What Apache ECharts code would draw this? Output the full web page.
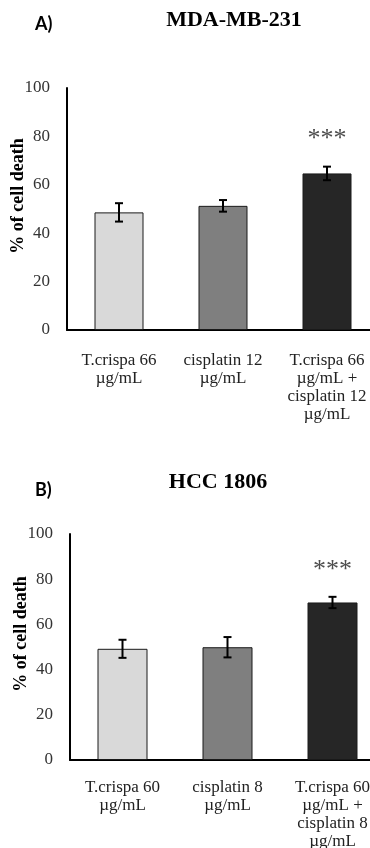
<!DOCTYPE html>
<html>
<head>
<meta charset="utf-8">
<script src="https://cdn.jsdelivr.net/npm/echarts@6/dist/echarts.min.js"></script>
<style>
  html, body { margin: 0; padding: 0; background: #fff; }
  #chart { width: 370px; height: 848px; }
</style>
</head>
<body>
<div id="chart"></div>
<script>
// data
var catsA = ['T.crispa 66\nµg/mL', 'cisplatin 12\nµg/mL', 'T.crispa 66\nµg/mL +\ncisplatin 12\nµg/mL'];
var valsA = [48.6, 51.3, 64.7];
var errA = [3.8, 2.4, 2.8];
var sigA = ['', '', '***'];

var catsB = ['T.crispa 60\nµg/mL', 'cisplatin 8\nµg/mL', 'T.crispa 60\nµg/mL +\ncisplatin 8\nµg/mL'];
var valsB = [49.2, 49.9, 69.7];
var errB = [4.0, 4.5, 2.5];
var sigB = ['', '', '***'];

var yTicks = [0, 20, 40, 60, 80, 100];
var barColors = ['#d9d9d9', '#7f7f7f', '#262626'];

const serif = 'Liberation Serif';

var chart = echarts.init(document.getElementById('chart'));

function barData(vals){
  return vals.map(function(v, i){
    return { value: v, itemStyle: { color: barColors[i] } };
  });
}

function errData(vals, errs){
  return vals.map(function(v, i){ return [i, v, errs[i]]; });
}

// error bars + stars
function errRender(sig){
  return function(params, api){
    var i = api.value(0), v = api.value(1), e = api.value(2);
    var top = api.coord([i, v + e]);
    var bot = api.coord([i, v - e]);
    var cap = 4;
    var st = { stroke: '#000', lineWidth: 2 };
    var kids = [
      { type: 'line', shape: { x1: top[0], y1: top[1], x2: bot[0], y2: bot[1] }, style: st },
      { type: 'line', shape: { x1: top[0] - cap, y1: top[1], x2: top[0] + cap, y2: top[1] }, style: st },
      { type: 'line', shape: { x1: bot[0] - cap, y1: bot[1], x2: bot[0] + cap, y2: bot[1] }, style: st }
    ];
    if (sig[params.dataIndex]) {
      kids.push({
        type: 'text', x: top[0], y: top[1] - 27,
        style: { text: sig[params.dataIndex], fill: '#4d4d4d', font: '26px "Liberation Serif"', align: 'center', verticalAlign: 'middle' }
      });
    }
    return { type: 'group', children: kids };
  };
}

function xAx(cats, idx, gap){
  return {
    type: 'category', gridIndex: idx, data: cats,
    axisLine: { lineStyle: { color: '#000', width: 2 } },
    axisTick: { show: false },
    axisLabel: { interval: 0, color: '#222', fontFamily: serif, fontSize: 17, lineHeight: 18, margin: gap }
  };
}

function yAx(idx){
  return {
    type: 'value', gridIndex: idx, min: yTicks[0], max: yTicks[yTicks.length - 1], interval: 20,
    name: '% of cell death', nameLocation: 'middle', nameGap: 40, nameMoveOverlap: false,
    nameTextStyle: { fontFamily: serif, fontWeight: 'bold', fontSize: 18, color: '#000', padding: [0, 0, 0, 26] },
    axisLine: { show: true, lineStyle: { color: '#000', width: 2 } },
    axisTick: { show: false },
    splitLine: { show: false },
    axisLabel: { color: '#333', fontFamily: serif, fontSize: 17, margin: 17 }
  };
}

var option = {
  animation: false,
  grid: [
    { left: 67, top: 88, width: 312, height: 242, outerBoundsMode: 'none' },
    { left: 70, top: 534, width: 315, height: 226, outerBoundsMode: 'none' }
  ],
  xAxis: [xAx(catsA, 0, 22), xAx(catsB, 1, 19)],
  yAxis: [yAx(0), yAx(1)],
  graphic: [
    { type: 'text', x: 35, y: 24, style: { text: 'A)', font: 'bold 18px Lato', fill: '#000', verticalAlign: 'middle' } },
    { type: 'text', x: 234, y: 20, style: { text: 'MDA-MB-231', font: 'bold 22px "Liberation Serif"', fill: '#000', align: 'center', verticalAlign: 'middle' } },
    { type: 'text', x: 35, y: 490, style: { text: 'B)', font: 'bold 18px Lato', fill: '#000', verticalAlign: 'middle' } },
    { type: 'text', x: 218, y: 482, style: { text: 'HCC 1806', font: 'bold 22px "Liberation Serif"', fill: '#000', align: 'center', verticalAlign: 'middle' } }
  ],
  series: [
    {
      type: 'bar', xAxisIndex: 0, yAxisIndex: 0, barWidth: 49, data: barData(valsA),
      itemStyle: { borderColor: '#1a1a1a', borderWidth: 1 }
    },
    {
      type: 'custom', xAxisIndex: 0, yAxisIndex: 0, data: errData(valsA, errA),
      encode: { x: 0, y: 1 }, renderItem: errRender(sigA), z: 5
    },
    {
      type: 'bar', xAxisIndex: 1, yAxisIndex: 1, barWidth: 50, data: barData(valsB),
      itemStyle: { borderColor: '#1a1a1a', borderWidth: 1 }
    },
    {
      type: 'custom', xAxisIndex: 1, yAxisIndex: 1, data: errData(valsB, errB),
      encode: { x: 0, y: 1 }, renderItem: errRender(sigB), z: 5
    }
  ]
};

chart.setOption(option);
</script>
</body>
</html>
